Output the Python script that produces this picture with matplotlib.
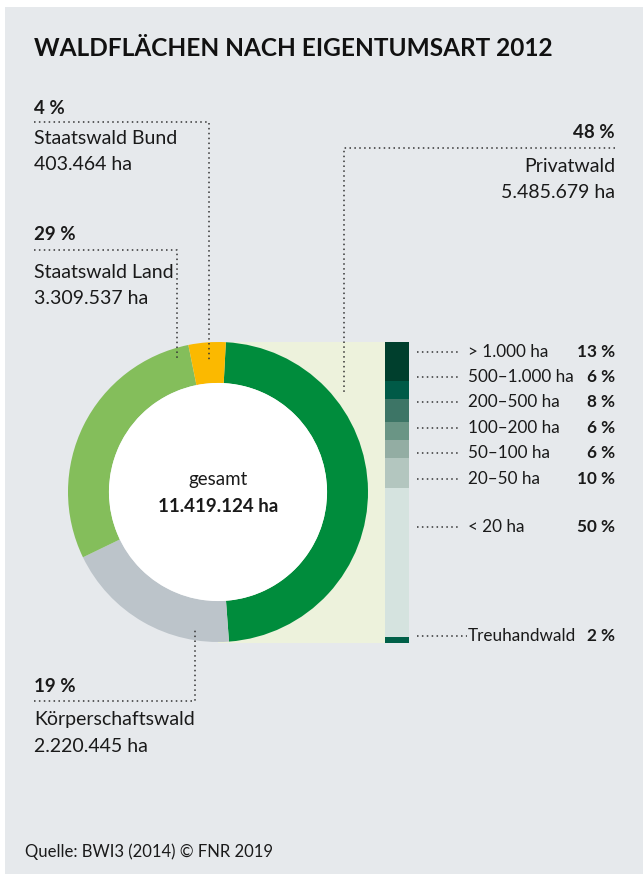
import matplotlib.pyplot as plt
from matplotlib.patches import Rectangle, Circle

plt.rcParams['font.family'] = ['Lato', 'DejaVu Sans']

W, H = 643, 875

# Eigentumsarten, im Uhrzeigersinn ab oben
eigentum = ['Privatwald', 'Körperschaftswald', 'Staatswald Land', 'Staatswald Bund']
anteil = [48, 19, 29, 4]
flaeche = ['5.485.679 ha', '2.220.445 ha', '3.309.537 ha', '403.464 ha']
farben = ['#008c3c', '#bcc4ca', '#84be5b', '#fbb900']

# Privatwald nach Groessenklassen
klassen = ['> 1.000 ha', '500–1.000 ha', '200–500 ha', '100–200 ha',
           '50–100 ha', '20–50 ha', '< 20 ha', 'Treuhandwald']
klassen_anteil = [13, 6, 8, 6, 6, 10, 50, 2]
klassen_farben = ['#003f2d', '#005a47', '#3d7566', '#6a9585',
                  '#93ada3', '#b3c6bf', '#d5e3df', '#006048']

gesamt = '11.419.124 ha'
titel = 'WALDFLÄCHEN NACH EIGENTUMSART 2012'
quelle = 'Quelle: BWI3 (2014) © FNR 2019'

txt = '#1a1a1a'
dot = dict(color='#333333', lw=1.1, ls=(0, (1, 2.2)))
fs = 14      # Beschriftung Eigentumsarten
fs_p = 13.5  # Prozentwerte

fig = plt.figure(figsize=(W / 100, H / 100), dpi=100)


def px_axes(x, y, w, h, z):
    ax = fig.add_axes([x / W, 1 - (y + h) / H, w / W, h / H])
    ax.set_zorder(z)
    ax.axis('off')
    return ax


# Hintergrund
bg = px_axes(0, 0, W, H, 0)
bg.set_xlim(0, W)
bg.set_ylim(H, 0)
bg.add_patch(Rectangle((5, 7), W - 5, H - 8, color='#e6e9ec', lw=0))
bg.add_patch(Rectangle((218, 342), 167, 301, color='#edf2dc', lw=0))

# Donut
ax_pie = px_axes(68, 342, 300, 300, 1)
ax_pie.pie(anteil, colors=farben, startangle=87, counterclock=False, radius=1,
           wedgeprops=dict(width=0.273, linewidth=0))
ax_pie.add_patch(Circle((0, 0), 0.727, color='white', lw=0))
ax_pie.set_xlim(-1, 1)
ax_pie.set_ylim(-1, 1)
ax_pie.set_aspect('equal')

# gestapelter Balken Privatwald
ax_bar = px_axes(385, 342, 24, 301, 1)
unten = 0
for v, c in zip(klassen_anteil, klassen_farben):
    ax_bar.bar(0, v, bottom=unten, width=1, color=c, lw=0)
    unten += v
ax_bar.set_xlim(-0.5, 0.5)
ax_bar.set_ylim(unten, 0)

# Texte und Linien
ax = px_axes(0, 0, W, H, 3)
ax.set_xlim(0, W)
ax.set_ylim(H, 0)

ax.text(34, 48, titel, fontsize=17.6, fontweight='bold', color='#111111', va='center')

# Staatswald Bund
ax.text(34, 108, f'{anteil[3]} %', fontsize=fs_p, fontweight='bold', color=txt, va='center')
ax.plot([34, 209, 209], [122, 122, 360], **dot)
ax.text(34, 138, eigentum[3], fontsize=fs, color=txt, va='center')
ax.text(34, 164, flaeche[3], fontsize=fs, color=txt, va='center')

# Staatswald Land
ax.text(34, 234, f'{anteil[2]} %', fontsize=fs_p, fontweight='bold', color=txt, va='center')
ax.plot([34, 177, 177], [250, 250, 360], **dot)
ax.text(34, 272, eigentum[2], fontsize=fs, color=txt, va='center')
ax.text(34, 298, flaeche[2], fontsize=fs, color=txt, va='center')

# Privatwald
ax.text(615, 133, f'{anteil[0]} %', fontsize=fs_p, fontweight='bold', color=txt, va='center', ha='right')
ax.plot([615, 344, 344], [148, 148, 392], **dot)
ax.text(615, 167, eigentum[0], fontsize=fs, color=txt, va='center', ha='right')
ax.text(615, 193, flaeche[0], fontsize=fs, color=txt, va='center', ha='right')

# Koerperschaftswald
ax.text(34, 686, f'{anteil[1]} %', fontsize=fs_p, fontweight='bold', color=txt, va='center')
ax.plot([34, 195, 195], [701, 701, 629], **dot)
ax.text(34, 720, eigentum[1], fontsize=fs, color=txt, va='center')
ax.text(34, 747, flaeche[1], fontsize=fs, color=txt, va='center')

# Mitte
ax.text(218, 480, 'gesamt', fontsize=13.5, color=txt, va='center', ha='center')
ax.text(218, 507, gesamt, fontsize=13.5, fontweight='bold', color=txt, va='center', ha='center')

# Groessenklassen-Beschriftung
label_y = [352, 377, 402, 428, 453, 479, 527, 636]
for i, (k, p, y) in enumerate(zip(klassen, klassen_anteil, label_y)):
    x_end = 467 if i == len(klassen) - 1 else 460
    ax.plot([417, x_end], [y, y], **dot)
    ax.text(468, y, k, fontsize=12.3, color=txt, va='center')
    ax.text(615, y, f'{p} %', fontsize=12.3, fontweight='bold', color=txt, va='center', ha='right')

ax.text(25, 852, quelle, fontsize=12, color=txt, va='center')

fig.savefig('out.png', dpi=100)
